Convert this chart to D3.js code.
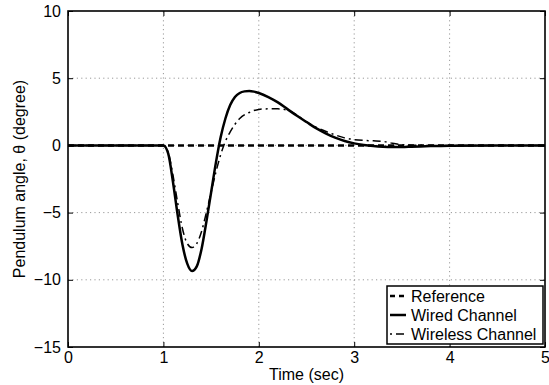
<!DOCTYPE html>
<html>
<head>
<meta charset="utf-8">
<script src="https://cdn.jsdelivr.net/npm/d3@7"></script>
<style>
  html, body { margin: 0; padding: 0; background: #fff; }
  svg { display: block; font-family: "Liberation Sans", Arial, Helvetica, sans-serif; }
</style>
</head>
<body>
<svg id="chart" width="549" height="385"></svg>
<script>
// Pendulum angle response: reference vs. wired and wireless channel control
const xTicks = [0, 1, 2, 3, 4, 5];
const yTicks = [-15, -10, -5, 0, 5, 10];

const timeRef = [0, 5];
const angleRef = [0, 0];

const timeWired = [0, 0.5, 1.0, 1.05, 1.1, 1.15, 1.2, 1.25, 1.3, 1.35, 1.4, 1.45, 1.5, 1.55, 1.6, 1.65, 1.7, 1.75, 1.8, 1.85, 1.9, 1.95, 2.0, 2.1, 2.2, 2.3, 2.4, 2.5, 2.6, 2.7, 2.8, 2.9, 3.0, 3.1, 3.2, 3.3, 3.4, 3.5, 3.6, 3.8, 4.0, 4.5, 5.0];
const angleWired = [0, 0, 0, -0.6, -2.7, -5.2, -7.4, -8.8, -9.35, -9.0, -7.7, -5.7, -3.5, -1.3, 0.6, 2.0, 3.0, 3.6, 3.9, 4.02, 4.05, 4.0, 3.9, 3.6, 3.2, 2.7, 2.2, 1.74, 1.28, 0.9, 0.58, 0.33, 0.15, 0.03, -0.05, -0.1, -0.12, -0.12, -0.1, -0.05, -0.02, 0, 0];

const timeWireless = [0, 0.5, 1.0, 1.05, 1.1, 1.15, 1.2, 1.25, 1.3, 1.35, 1.4, 1.45, 1.5, 1.55, 1.6, 1.65, 1.7, 1.8, 1.9, 2.0, 2.1, 2.2, 2.3, 2.4, 2.5, 2.6, 2.7, 2.8, 2.9, 3.0, 3.1, 3.2, 3.3, 3.4, 3.5, 3.6, 3.8, 4.0, 4.5, 5.0];
const angleWireless = [0, 0, 0, -0.5, -2.2, -4.3, -6.2, -7.3, -7.6, -7.3, -6.4, -5.0, -3.5, -2.0, -0.7, 0.3, 1.0, 2.0, 2.45, 2.68, 2.72, 2.72, 2.62, 2.25, 1.75, 1.35, 1.05, 0.78, 0.56, 0.43, 0.37, 0.34, 0.3, 0.16, 0.06, 0.02, 0, 0, 0, 0];

const seriesNames = ["Reference", "Wired Channel", "Wireless Channel"];

const svg = d3.select("#chart");
const W = 549, H = 385;
const margin = { left: 68, right: 4, top: 11, bottom: 38 };
const x = d3.scaleLinear().domain([0, 5]).range([margin.left, W - margin.right]);
const y = d3.scaleLinear().domain([-15, 10]).range([H - margin.bottom, margin.top]);
const fmt = d => d < 0 ? "\u2212" + Math.abs(d) : String(d);

// grid
const grid = svg.append("g").attr("stroke", "#999").attr("stroke-width", 1).attr("stroke-dasharray", "1.2,3.2");
xTicks.slice(1, -1).forEach(t => grid.append("line")
  .attr("x1", x(t)).attr("x2", x(t)).attr("y1", y(-15)).attr("y2", y(10)));
yTicks.slice(1, -1).forEach(t => grid.append("line")
  .attr("x1", x(0)).attr("x2", x(5)).attr("y1", y(t)).attr("y2", y(t)));

// axes with inward ticks, mirrored on top and right
const tickLen = 5;
const axBottom = svg.append("g").attr("transform", `translate(0,${y(-15)})`)
  .call(d3.axisBottom(x).tickValues(xTicks).tickSizeInner(-tickLen).tickSizeOuter(0).tickPadding(5).tickFormat(fmt));
const axLeft = svg.append("g").attr("transform", `translate(${x(0)},0)`)
  .call(d3.axisLeft(y).tickValues(yTicks).tickSizeInner(-tickLen).tickSizeOuter(0).tickPadding(7).tickFormat(fmt));
const axTop = svg.append("g").attr("transform", `translate(0,${y(10)})`)
  .call(d3.axisTop(x).tickValues(xTicks).tickSizeInner(-tickLen).tickSizeOuter(0).tickFormat(""));
const axRight = svg.append("g").attr("transform", `translate(${x(5)},0)`)
  .call(d3.axisRight(y).tickValues(yTicks).tickSizeInner(-tickLen).tickSizeOuter(0).tickFormat(""));
[axBottom, axLeft, axTop, axRight].forEach(g => {
  g.select(".domain").remove();
  g.selectAll(".tick line").attr("stroke", "#000").attr("stroke-width", 1);
  g.selectAll("text").attr("fill", "#000").attr("font-size", 16).attr("font-family", "Liberation Sans, Arial, sans-serif");
});

// frame
svg.append("rect").attr("x", x(0)).attr("y", y(10)).attr("width", x(5) - x(0)).attr("height", y(-15) - y(10))
  .attr("fill", "none").attr("stroke", "#000").attr("stroke-width", 1.6);

// series
const line = d3.line().x(d => x(d[0])).y(d => y(d[1])).curve(d3.curveMonotoneX);
const zip = (a, b) => a.map((v, i) => [v, b[i]]);
const styles = [
  { dash: "6,4", width: 2.5 },
  { dash: null, width: 2.5 },
  { dash: "8,4,2,4", width: 1.5 }
];
const data = [zip(timeRef, angleRef), zip(timeWired, angleWired), zip(timeWireless, angleWireless)];
const plot = svg.append("g");
[2, 1, 0].forEach(i => plot.append("path").datum(data[i])
  .attr("d", line).attr("fill", "none").attr("stroke", "#000")
  .attr("stroke-width", styles[i].width).attr("stroke-dasharray", styles[i].dash));

// axis titles
svg.append("text").attr("x", (x(0) + x(5)) / 2).attr("y", 380).attr("text-anchor", "middle")
  .attr("font-size", 16).text("Time (sec)");
svg.append("text").attr("transform", `translate(25,${(y(10) + y(-15)) / 2}) rotate(-90)`)
  .attr("text-anchor", "middle").attr("font-size", 16).text("Pendulum angle, \u03b8 (degree)");

// legend
const lg = svg.append("g");
const lx = 387, ly = 286, lw = 156, lh = 58;
lg.append("rect").attr("x", lx).attr("y", ly).attr("width", lw).attr("height", lh)
  .attr("fill", "#fff").attr("stroke", "#000").attr("stroke-width", 1.5);
seriesNames.forEach((name, i) => {
  const cy = ly + 10 + i * 19;
  lg.append("line").attr("x1", lx + 3).attr("x2", lx + 19).attr("y1", cy).attr("y2", cy)
    .attr("stroke", "#000").attr("stroke-width", styles[i].width)
    .attr("stroke-dasharray", i === 0 ? "5,4" : i === 2 ? "2,4,8,4" : null);
  lg.append("text").attr("x", lx + 24).attr("y", cy + 6).attr("font-size", 16).text(name);
});
</script>
</body>
</html>
